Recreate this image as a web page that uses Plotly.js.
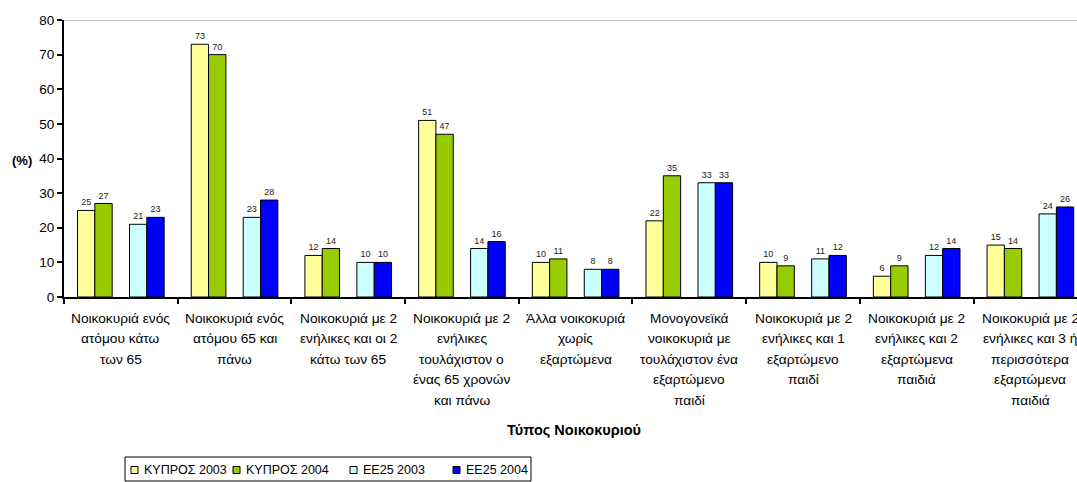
<!DOCTYPE html>
<html>
<head>
<meta charset="utf-8">
<script src="https://cdn.plot.ly/plotly-3.0.1.min.js"></script>
<style>
  html, body { margin: 0; padding: 0; background: #ffffff; }
  #chart { width: 1077px; height: 482px; }
</style>
</head>
<body>
<div id="chart"></div>
<script>
// ---- data ----
const tickLabelLines = [
  ["Νοικοκυριά ενός", "ατόμου κάτω", "των 65"],
  ["Νοικοκυριά ενός", "ατόμου 65 και", "πάνω"],
  ["Νοικοκυριά με 2", "ενήλικες και οι 2", "κάτω των 65"],
  ["Νοικοκυριά με 2", "ενήλικες", "τουλάχιστον ο", "ένας 65 χρονών", "και πάνω"],
  ["Άλλα νοικοκυριά", "χωρίς", "εξαρτώμενα"],
  ["Μονογονεϊκά", "νοικοκυριά με", "τουλάχιστον ένα", "εξαρτώμενο", "παιδί"],
  ["Νοικοκυριά με 2", "ενήλικες και 1", "εξαρτώμενο", "παιδί"],
  ["Νοικοκυριά με 2", "ενήλικες και 2", "εξαρτώμενα", "παιδιά"],
  ["Νοικοκυριά με 2", "ενήλικες και 3 ή", "περισσότερα", "εξαρτώμενα", "παιδιά"]
];
const categories = tickLabelLines.map(l => l.join(" "));

const seriesNames = ["ΚΥΠΡΟΣ 2003", "ΚΥΠΡΟΣ 2004", "ΕΕ25 2003", "ΕΕ25 2004"];
const cyprus2003 = [25, 73, 12, 51, 10, 22, 10, 6, 15];
const cyprus2004 = [27, 70, 14, 47, 11, 35, 9, 9, 14];
const eu2003     = [21, 23, 10, 14, 8, 33, 11, 12, 24];
const eu2004     = [23, 28, 10, 16, 8, 33, 12, 14, 26];

const yTicks = [0, 10, 20, 30, 40, 50, 60, 70, 80];
const xTitle = "Τύπος Νοικοκυριού";
const yTitle = "(%)";

// ---- styling ----
const colors = ["#FFFF99", "#99CC00", "#CCFFFF", "#0000FF"];
const FONT = "Arial, 'Liberation Sans', sans-serif";

const W = 1077, H = 482;
const M = { l: 64, r: 0, t: 20, b: 185 };
const plotW = W - M.l - M.r, plotH = H - M.t - M.b;
const px2x = px => (px - M.l) / plotW;
const py2y = py => (H - M.b - py) / plotH;

function barTrace(name, vals, color) {
  return {
    type: "bar", name: name, x: categories, y: vals,
    marker: { color: color, line: { color: "#000000", width: 1 } },
    text: vals.map(v => String(v)), textposition: "outside",
    textfont: { family: FONT, size: 9, color: "#222222" },
    cliponaxis: false, showlegend: false, hoverinfo: "x+y+name"
  };
}

const gapTrace = {
  type: "bar", name: "", x: categories, y: categories.map(() => null),
  showlegend: false, hoverinfo: "skip", marker: { color: "rgba(0,0,0,0)" }
};

const data = [
  barTrace(seriesNames[0], cyprus2003, colors[0]),
  barTrace(seriesNames[1], cyprus2004, colors[1]),
  gapTrace,
  barTrace(seriesNames[2], eu2003, colors[2]),
  barTrace(seriesNames[3], eu2004, colors[3])
];

// category labels, one annotation per line (for Excel-like line spacing)
const annotations = [];
tickLabelLines.forEach((lines, i) => {
  lines.forEach((ln, j) => {
    annotations.push({
      x: i, xref: "x", y: 0, yref: "y", yanchor: "middle", xanchor: "center",
      yshift: -(21 + 20.6 * j), text: ln, showarrow: false,
      font: { family: FONT, size: 13.7, color: "#000000" }
    });
  });
});
// axis titles
annotations.push({
  x: px2x(574), xref: "paper", y: py2y(430), yref: "paper",
  xanchor: "center", yanchor: "middle", text: "<b>" + xTitle + "</b>", showarrow: false,
  font: { family: FONT, size: 14.5, color: "#000000" }
});
annotations.push({
  x: px2x(22), xref: "paper", y: py2y(160), yref: "paper",
  xanchor: "center", yanchor: "middle", text: "<b>" + yTitle + "</b>", showarrow: false,
  font: { family: FONT, size: 13, color: "#000000" }
});

// legend (drawn manually to match the compact Excel layout)
const shapes = [
  { type: "line", xref: "paper", yref: "y", x0: 0, x1: 1, y0: 80, y1: 80,
    line: { color: "#8c8c8c", width: 1 } },
  { type: "rect", xref: "paper", yref: "paper",
    x0: px2x(125), x1: px2x(531), y0: py2y(481), y1: py2y(457),
    line: { color: "#000000", width: 1 }, fillcolor: "rgba(0,0,0,0)" }
];
const legendSymLeft = [131, 233, 350, 453];
const legendMidY = 470;
seriesNames.forEach((nm, k) => {
  const sx = legendSymLeft[k];
  shapes.push({
    type: "rect", xref: "paper", yref: "paper",
    x0: px2x(sx), x1: px2x(sx + 7), y0: py2y(legendMidY + 3.5), y1: py2y(legendMidY - 3.5),
    line: { color: "#000000", width: 1 }, fillcolor: colors[k]
  });
  annotations.push({
    x: px2x(sx + 11), xref: "paper", y: py2y(legendMidY), yref: "paper",
    xanchor: "left", yanchor: "middle", text: nm, showarrow: false,
    font: { family: FONT, size: 12.5, color: "#000000" }
  });
});

const layout = {
  width: W, height: H,
  margin: M,
  paper_bgcolor: "#ffffff", plot_bgcolor: "#ffffff",
  barmode: "group", bargap: 0.238, bargroupgap: 0,
  showlegend: false,
  font: { family: FONT, size: 13, color: "#000000" },
  xaxis: {
    type: "category", range: [-0.5, 8.41], showgrid: false, zeroline: false,
    showline: true, linecolor: "#000000", linewidth: 2,
    ticks: "outside", tickson: "boundaries", ticklen: 5, tickwidth: 2, tickcolor: "#000000",
    showticklabels: false, fixedrange: true
  },
  yaxis: {
    range: [0, 80], tickvals: yTicks, ticktext: yTicks.map(String),
    showgrid: false, zeroline: false,
    showline: true, linecolor: "#000000", linewidth: 2,
    ticks: "outside", ticklen: 5, tickwidth: 2, tickcolor: "#000000",
    tickfont: { family: FONT, size: 13.5, color: "#000000" }, fixedrange: true
  },
  shapes: shapes,
  annotations: annotations
};

Plotly.newPlot("chart", data, layout, { displayModeBar: false, staticPlot: true });
</script>
</body>
</html>
